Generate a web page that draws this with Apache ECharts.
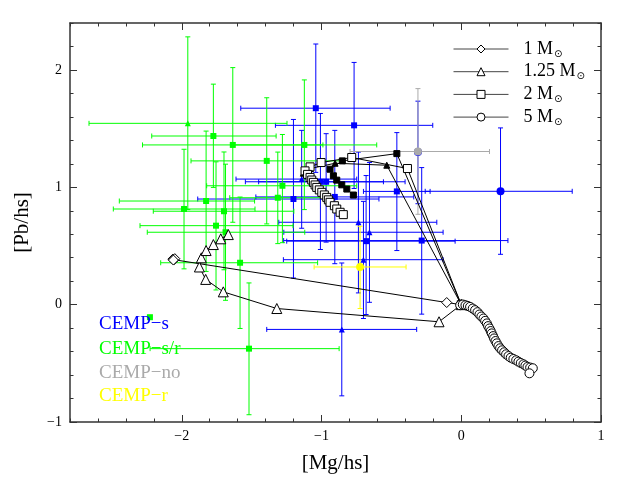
<!DOCTYPE html>
<html>
<head>
<meta charset="utf-8">
<script src="https://cdn.jsdelivr.net/npm/echarts@6/dist/echarts.min.js"></script>
<style>
  html, body { margin: 0; padding: 0; background: #fff; }
  #chart { width: 640px; height: 479px; }
</style>
</head>
<body>
<div id="chart"></div>
<script>
// ===== data: [x, y, xLow, xHigh, yLow, yHigh] =====
const blueSquares = [
  [-1.041, 1.674, -1.578, -0.509, 1.127, 2.221],
  [-0.767, 1.528, -1.330, -0.204, 0.990, 2.064],
  [-0.461, 0.965, -0.700, -0.223, 0.461, 1.466],
  [-0.283, 0.546, -1.271, 0.334, -0.081, 1.168],
  [-1.008, 1.047, -1.545, -0.402, 0.470, 1.629],
  [-0.967, 1.047, -1.450, -0.557, 0.533, 1.457],
  [-1.201, 0.900, -1.886, -0.589, 0.227, 1.578],
  [-0.905, 0.918, -1.470, -0.340, 0.349, 1.485],
  [-0.681, 0.541, -1.249, -0.044, -0.084, 1.100]
]
const blueTriangles = [
  [-0.855, -0.211, -1.392, -0.319, -0.777, 0.355],
  [-1.142, 1.070, -1.612, -0.748, 0.651, 1.485],
  [-0.736, 0.702, -1.306, -0.175, 0.100, 1.300],
  [-0.657, 0.617, -1.270, -0.130, 0.020, 1.211],
  [-0.700, 0.383, -1.273, -0.130, -0.118, 0.880]
]
const blueCircles = [
  [0.281, 0.966, -0.258, 0.794, 0.429, 1.506],
  [-0.310, 1.300, NaN, NaN, 0.860, 1.734]
]
const greenSquares = [
  [-1.774, 1.437, -2.215, -1.325, 0.999, 1.879],
  [-1.635, 1.361, -2.281, -0.990, 0.702, 2.020],
  [-1.123, 1.361, -1.640, -0.605, 0.810, 1.915],
  [-1.392, 1.225, -1.934, -0.850, 0.688, 1.763],
  [-1.280, 1.013, -1.822, -0.748, 0.528, 1.450],
  [-1.313, 0.911, -1.657, -0.960, 0.520, 1.300],
  [-1.826, 0.883, -2.447, -1.479, 0.283, 1.479],
  [-1.984, 0.815, -2.490, -1.476, 0.305, 1.324],
  [-1.698, 0.796, -2.204, -1.198, 0.297, 1.301],
  [-1.755, 0.673, -2.299, -1.204, 0.125, 1.217],
  [-1.687, 0.617, -2.247, -1.120, 0.037, 1.197],
  [-1.583, 0.357, -2.151, -1.028, -0.203, 0.917],
  [-1.519, -0.375, -2.227, -0.874, -0.938, 0.185],
  [-2.228, -0.107, NaN, NaN, NaN, NaN]
]
const greenTriangles = [
  [-1.957, 1.545, -2.664, -1.247, 0.810, 2.282]
]
const greyCircles = [
  [-0.310, 1.305, -0.796, 0.202, 0.770, 1.841]
]
const yellowCircles = [
  [-0.724, 0.321, -1.053, -0.395, -0.033, 0.668]
]

// ===== model tracks =====
const track1 = [[0, 0], [-0.104, 0.018], [-2.056, 0.383], [-2.064, 0.388], [-2.050, 0.392], [-2.060, 0.380]]
const track125 = [[0, 0], [-0.159, -0.146], [-1.320, -0.033], [-1.703, 0.109], [-1.829, 0.215],
  [-1.874, 0.321], [-1.860, 0.399], [-1.826, 0.461], [-1.774, 0.512], [-1.721, 0.561], [-1.667, 0.597]]
const track2 = [[0, 0], [-0.385, 1.160], [-0.784, 1.254], [-1.003, 1.211], [-1.082, 1.174], [-1.118, 1.140],
  [-1.100, 1.110], [-1.082, 1.084], [-1.070, 1.062], [-1.058, 1.042], [-1.046, 1.020], [-1.034, 0.999],
  [-1.016, 0.978], [-0.998, 0.957], [-0.980, 0.935], [-0.963, 0.914], [-0.951, 0.893], [-0.939, 0.872],
  [-0.908, 0.843], [-0.891, 0.815], [-0.867, 0.787], [-0.844, 0.767]]
const track5 = [[0, 0], [-0.008, -0.005], [0.011, 0.001], [0.030, -0.005], [0.047, -0.011], [0.063, -0.019],
  [0.082, -0.033], [0.099, -0.047], [0.116, -0.064], [0.130, -0.084], [0.144, -0.101], [0.159, -0.118],
  [0.171, -0.138], [0.183, -0.160], [0.192, -0.183], [0.202, -0.203], [0.211, -0.225], [0.218, -0.245],
  [0.228, -0.268], [0.235, -0.288], [0.245, -0.310], [0.254, -0.330], [0.266, -0.353], [0.278, -0.372],
  [0.292, -0.389], [0.307, -0.406], [0.321, -0.423], [0.338, -0.438], [0.354, -0.452], [0.373, -0.463],
  [0.393, -0.474], [0.409, -0.486], [0.426, -0.497], [0.445, -0.508], [0.459, -0.519], [0.474, -0.531],
  [0.493, -0.536], [0.512, -0.542], [0.488, -0.585]]
const trackFilledSq = [[0, 0], [-0.461, 1.287], [-0.851, 1.225], [-0.939, 1.154], [-0.915, 1.098],
  [-0.891, 1.061], [-0.855, 1.021], [-0.819, 0.985], [-0.772, 0.934]]
const trackFilledTri = [[0, 0], [-0.533, 1.188], [-0.903, 1.205], [-1.080, 1.160], [-1.118, 1.140], [-1.130, 1.120]]

// ===== axes ticks =====
const xMajor = [-2, -1, 0, 1]
const yMajor = [-1, 0, 1, 2]
const xMinor = []
for (let i = -28; i <= 10; i += 2) xMinor.push(i / 10)
const yMinor = []
for (let i = -10; i <= 24; i += 2) yMinor.push(i / 10)

const serif = '"Liberation Serif", "DejaVu Serif", serif'
const frame = '#333'

function errRender(color) {
  return function (params, api) {
    const x = api.value(0), y = api.value(1)
    const xl = api.value(2), xh = api.value(3), yl = api.value(4), yh = api.value(5)
    const c = 2.5
    const st = { stroke: color, lineWidth: 1 }
    const kids = []
    const seg = (p, q) => kids.push({ type: 'line', shape: { x1: p[0], y1: p[1], x2: q[0], y2: q[1] }, style: st })
    if (Number.isFinite(xl) && Number.isFinite(xh)) {
      const a = api.coord([xl, y]), b = api.coord([xh, y])
      seg(a, b)
      seg([a[0], a[1] - c], [a[0], a[1] + c])
      seg([b[0], b[1] - c], [b[0], b[1] + c])
    }
    if (Number.isFinite(yl) && Number.isFinite(yh)) {
      const a = api.coord([x, yl]), b = api.coord([x, yh])
      seg(a, b)
      seg([a[0] - c, a[1]], [a[0] + c, a[1]])
      seg([b[0] - c, b[1]], [b[0] + c, b[1]])
    }
    return { type: 'group', children: kids }
  }
}

function errSeries(data, color) {
  return { type: 'custom', renderItem: errRender(color), data: data, encode: { x: 0, y: 1 }, silent: true }
}
function markSeries(data, color, symbol, size) {
  return { type: 'scatter', data: data.map(d => [d[0], d[1]]), symbol: symbol, symbolSize: size,
    itemStyle: { color: color, opacity: 1 }, silent: true }
}
function trackSeries(name, data, symbol, size, fill) {
  return { name: name, type: 'line', data: data, symbol: symbol, symbolSize: size, showAllSymbol: true,
    itemStyle: { color: fill, borderColor: '#000', borderWidth: 1 },
    lineStyle: { color: '#000', width: 1 }, silent: true }
}

const minus = v => String(v).replace('-', '\u2212')

function xAx(pos, ticks, len, showLine, labels) {
  return { type: 'value', min: -2.8, max: 1, position: pos,
    axisLine: { show: showLine, onZero: false, lineStyle: { color: frame, width: 1.5 } },
    axisTick: { inside: true, length: len, customValues: ticks, lineStyle: { color: frame, width: 1 } },
    axisLabel: labels ? { customValues: xMajor, formatter: minus, color: '#000', fontFamily: serif, fontSize: 14, margin: 7 } : { show: false },
    splitLine: { show: false } }
}
function yAx(pos, ticks, len, showLine, labels) {
  return { type: 'value', min: -1, max: 2.4, position: pos,
    axisLine: { show: showLine, onZero: false, lineStyle: { color: frame, width: 1.5 } },
    axisTick: { inside: true, length: len, customValues: ticks, lineStyle: { color: frame, width: 1 } },
    axisLabel: labels ? { customValues: yMajor, formatter: minus, color: '#000', fontFamily: serif, fontSize: 14, margin: 8 } : { show: false },
    splitLine: { show: false } }
}

const chart = echarts.init(document.getElementById('chart'))
const xMain = xAx('bottom', xMajor, 7, true, true)
xMain.name = '[Mg/hs]'
xMain.nameLocation = 'middle'
xMain.nameGap = 31
xMain.nameTextStyle = { fontFamily: serif, fontSize: 21, color: '#000' }
const yMain = yAx('left', yMajor, 7, true, true)
yMain.name = '[Pb/hs]'
yMain.nameLocation = 'middle'
yMain.nameGap = 37
yMain.nameTextStyle = { fontFamily: serif, fontSize: 21, color: '#000' }

const cempFont = '19px ' + serif

chart.setOption({
  animation: false,
  backgroundColor: '#fff',
  grid: { left: 70, right: 39, top: 23, bottom: 55 },
  xAxis: [xMain, xAx('bottom', xMinor, 3.5, false, false), xAx('top', xMajor, 7, true, false), xAx('top', xMinor, 3.5, false, false)],
  yAxis: [yMain, yAx('left', yMinor, 3.5, false, false), yAx('right', yMajor, 7, true, false), yAx('right', yMinor, 3.5, false, false)],
  legend: {
    orient: 'vertical', left: 448, top: 35,
    itemWidth: 55, itemHeight: 10, itemGap: 3.7,
    lineStyle: { width: 1, color: '#444' },
    itemStyle: { color: '#fff', borderColor: '#000', borderWidth: 1 },
    data: ['1 M', '1.25 M', '2 M', '5 M'],
    formatter: n => '{a|' + n + '}{s|\u2299}',
    textStyle: {
      rich: {
        a: { fontFamily: serif, fontSize: 18, color: '#000', padding: [0, 0, 0, 10], lineHeight: 20 },
        s: { fontFamily: '"DejaVu Sans"', fontSize: 10, color: '#000', padding: [10, 0, 0, 1] }
      }
    }
  },
  graphic: [
    { type: 'text', x: 99, y: 324, z: 100, style: { text: 'CEMP\u2212s', fill: '#0000ff', font: cempFont, verticalAlign: 'middle' } },
    { type: 'text', x: 99, y: 348.7, z: 100, style: { text: 'CEMP\u2212s/r', fill: '#00ff00', font: cempFont, verticalAlign: 'middle' } },
    { type: 'text', x: 99, y: 372.7, z: 100, style: { text: 'CEMP\u2212no', fill: '#aaaaaa', font: cempFont, verticalAlign: 'middle' } },
    { type: 'text', x: 99, y: 396, z: 100, style: { text: 'CEMP\u2212r', fill: '#ffff00', font: cempFont, verticalAlign: 'middle' } }
  ],
  series: [
    trackSeries('fsq', trackFilledSq, 'rect', 6, '#000'),
    trackSeries('ftri', trackFilledTri, 'triangle', 6, '#000'),
    trackSeries('1 M', track1, 'diamond', 10, '#fff'),
    trackSeries('1.25 M', track125, 'triangle', 10, '#fff'),
    trackSeries('2 M', track2, 'rect', 8, '#fff'),
    trackSeries('5 M', track5, 'circle', 9, '#fff'),
    errSeries(blueSquares, '#0000ff'),
    errSeries(blueTriangles, '#0000ff'),
    errSeries(blueCircles, '#0000ff'),
    errSeries(greenSquares, '#00ff00'),
    errSeries(greenTriangles, '#00ff00'),
    errSeries(greyCircles, '#aaaaaa'),
    errSeries(yellowCircles, '#ffff00'),
    markSeries(blueSquares, '#0000ff', 'rect', 6),
    markSeries(blueTriangles, '#0000ff', 'triangle', 6),
    markSeries(blueCircles, '#0000ff', 'circle', 8),
    markSeries(greenSquares, '#00ff00', 'rect', 6),
    markSeries(greenTriangles, '#00ff00', 'triangle', 6),
    markSeries(greyCircles, '#aaaaaa', 'circle', 8),
    markSeries(yellowCircles, '#ffff00', 'circle', 8)
  ]
})
</script>
</body>
</html>
